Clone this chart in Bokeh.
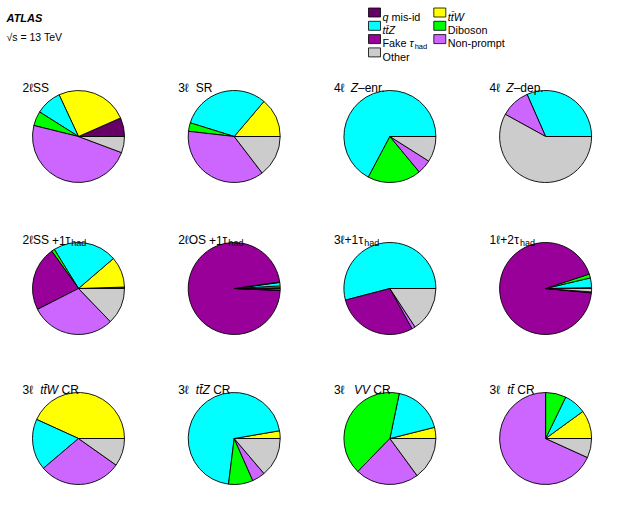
import numpy as np
from bokeh.plotting import figure
from bokeh.models import Range1d, ColumnDataSource
from bokeh.core.properties import value
from bokeh.embed import file_html
from bokeh.resources import INLINE

# ---------------- data ----------------
processes = ["q mis-id", "ttW", "ttZ", "Diboson", "Fake tau_had", "Non-prompt", "Other"]
colors = ["#660066", "#ffff00", "#00ffff", "#00ff00", "#990099", "#cc66ff", "#cccccc"]
regions = ["2lSS", "3l SR", "4l Z-enr.", "4l Z-dep.",
           "2lSS+1tau", "2lOS+1tau", "3l+1tau", "1l+2tau",
           "3l ttW CR", "3l ttZ CR", "3l VV CR", "3l tt CR"]
# composition in percent, one entry per region
q_misid    = [6.6, 0.0, 0.0, 0.0, 0.5, 0.3, 0.0, 0.0, 0.0, 0.0, 0.0, 0.0]
ttW        = [25.3, 13.8, 0.0, 0.0, 10.8, 0.6, 0.0, 0.3, 43.2, 2.7, 3.9, 10.0]
ttZ        = [9.1, 31.4, 67.3, 31.6, 22.5, 1.2, 53.8, 3.4, 18.0, 70.4, 17.8, 7.8]
diboson    = [5.1, 3.0, 18.8, 0.0, 1.1, 0.2, 0.0, 1.4, 0.0, 8.6, 40.9, 7.2]
fake_tau   = [0.0, 0.0, 0.0, 0.0, 22.6, 97.0, 28.8, 93.4, 0.0, 0.0, 0.0, 0.0]
non_prompt = [48.1, 37.2, 5.0, 10.4, 29.7, 0.2, 1.2, 0.3, 29.0, 4.6, 22.3, 68.2]
other      = [5.7, 14.6, 9.0, 58.0, 12.8, 0.5, 15.7, 1.2, 9.8, 13.8, 14.9, 6.8]
series = [q_misid, ttW, ttZ, diboson, fake_tau, non_prompt, other]

# region titles as (text, style) segments: n=normal, i=italic, s=subscript
TS = "\u2009"  # thin space
region_labels = [
    [("2ℓSS", "n")],
    [("3ℓ  SR", "n")],
    [("4ℓ " + TS, "n"), ("Z", "i"), ("–enr.", "n")],
    [("4ℓ " + TS, "n"), ("Z", "i"), ("–dep.", "n")],
    [("2ℓSS" + TS + "+1", "n"), ("τ", "n"), ("had", "s")],
    [("2ℓOS" + TS + "+1", "n"), ("τ", "n"), ("had", "s")],
    [("3ℓ+1", "n"), ("τ", "n"), ("had", "s")],
    [("1ℓ+2", "n"), ("τ", "n"), ("had", "s")],
    [("3ℓ  ", "n"), ("tt̄W", "i"), (" CR", "n")],
    [("3ℓ  ", "n"), ("tt̄Z", "i"), (" CR", "n")],
    [("3ℓ  " + TS, "n"), ("VV", "i"), (" CR", "n")],
    [("3ℓ  ", "n"), ("tt̄", "i"), (" CR", "n")],
]
legend_labels = [
    [("q", "i"), (" mis-id", "n")],
    [("tt̄W", "i")],
    [("tt̄Z", "i")],
    [("Diboson", "n")],
    [("Fake ", "n"), ("τ", "i"), ("had", "s")],
    [("Non-prompt", "n")],
    [("Other", "n")],
]

# ---------------- layout ----------------
FONT = "Liberation Sans"
W, H = 615, 506
def Y(py):
    return 514 - py

col_x = [78.0, 233.7, 389.4, 545.1]
row_y = [136.0, 288.0, 438.0]
R = 46.0

AW = {' ': 0.278, TS: 0.2, '+': 0.584, '-': 0.333, '–': 0.556, '.': 0.278, '=': 0.584,
      'A': 0.667, 'C': 0.722, 'D': 0.722, 'F': 0.611, 'L': 0.556, 'N': 0.722, 'O': 0.778,
      'R': 0.722, 'S': 0.667, 'T': 0.611, 'V': 0.667, 'W': 0.944, 'Z': 0.611,
      'a': 0.556, 'b': 0.556, 'd': 0.556, 'e': 0.556, 'h': 0.556, 'i': 0.222, 'k': 0.5,
      'm': 0.833, 'n': 0.556, 'o': 0.556, 'p': 0.556, 'q': 0.556, 'r': 0.333, 's': 0.5,
      't': 0.278, 'ℓ': 0.36, 'τ': 0.48, '\u0304': 0.0}
def cw(c):
    return AW.get(c, 0.556)

p = figure(width=W, height=H, x_range=Range1d(0, W), y_range=Range1d(514 - H, 514),
           output_backend="svg", toolbar_location=None, min_border=0,
           x_axis_type=None, y_axis_type=None)
p.outline_line_color = None
p.grid.visible = False
p.background_fill_color = "white"

# ---------------- pies ----------------
wx, wy, ws, we, wc = [], [], [], [], []
for r in range(len(regions)):
    vals = np.array([s[r] for s in series], dtype=float)
    frac = vals / vals.sum()
    cum = np.concatenate([[0.0], np.cumsum(frac)]) * 2 * np.pi
    cx = col_x[r % 4]
    cy = Y(row_y[r // 4])
    for k in range(len(processes)):
        if frac[k] <= 0:
            continue
        wx.append(cx); wy.append(cy)
        ws.append(cum[k]); we.append(cum[k + 1]); wc.append(colors[k])
p.wedge(x="x", y="y", radius=R, start_angle="s", end_angle="e", fill_color="c",
        line_color="black", line_width=0.9,
        source=ColumnDataSource(dict(x=wx, y=wy, s=ws, e=we, c=wc)))

# ---------------- texts ----------------
groups = {}
def emit(style, size, x, y, t):
    g = groups.setdefault((style, size), dict(x=[], y=[], t=[]))
    g["x"].append(x); g["y"].append(y); g["t"].append(t)

def place(parts, x0, base, size, subsize, subdrop):
    x = x0
    for text, st in parts:
        sz = subsize if st == "s" else size
        yb = Y(base + subdrop) if st == "s" else Y(base)
        word, wx0 = "", x
        for c in text:
            if c in (" ", TS):
                if word:
                    emit(st, sz, wx0, yb, word)
                    word = ""
                x += cw(c) * sz
            else:
                if not word:
                    wx0 = x
                word += c
                x += cw(c) * sz
        if word:
            emit(st, sz, wx0, yb, word)

LAB = 12.0
for r, parts in enumerate(region_labels):
    place(parts, col_x[r % 4] - 56.0, row_y[r // 4] - 48.5, LAB, 9.0, 2.8)

LEG = 10.8
leg_box_x = [374.0, 439.3]
leg_y0, leg_dy = 12.0, 13.3
bx, by, bc = [], [], []
for k, parts in enumerate(legend_labels):
    c, rr = k % 2, k // 2
    yy = leg_y0 + rr * leg_dy
    bx.append(leg_box_x[c]); by.append(Y(yy)); bc.append(colors[k])
    place(parts, leg_box_x[c] + 8.0, yy + 4.2, LEG, 7.5, 3.0)
p.rect(x="x", y="y", width=12, height=9, fill_color="c", line_color="black", line_width=0.8,
       source=ColumnDataSource(dict(x=bx, y=by, c=bc)))

for (st, sz), d in groups.items():
    src = ColumnDataSource(dict(x=d["x"], y=d["y"], t=d["t"]))
    p.text(x="x", y="y", text="t", source=src, text_font=value(FONT),
           text_font_size=f"{sz}px", text_font_style="italic" if st == "i" else "normal",
           text_baseline="alphabetic", text_align="left", text_color="black")

p.text(x=[6], y=[Y(17.5)], text=["ATLAS"], text_font=value(FONT), text_font_size="11px",
       text_font_style="bold italic", text_baseline="alphabetic", text_color="black")
p.text(x=[6], y=[Y(36)], text=["√s = 13 TeV"], text_font=value(FONT), text_font_size="10.5px",
       text_baseline="alphabetic", text_color="black")

open("out.html", "w").write(file_html(p, INLINE))
